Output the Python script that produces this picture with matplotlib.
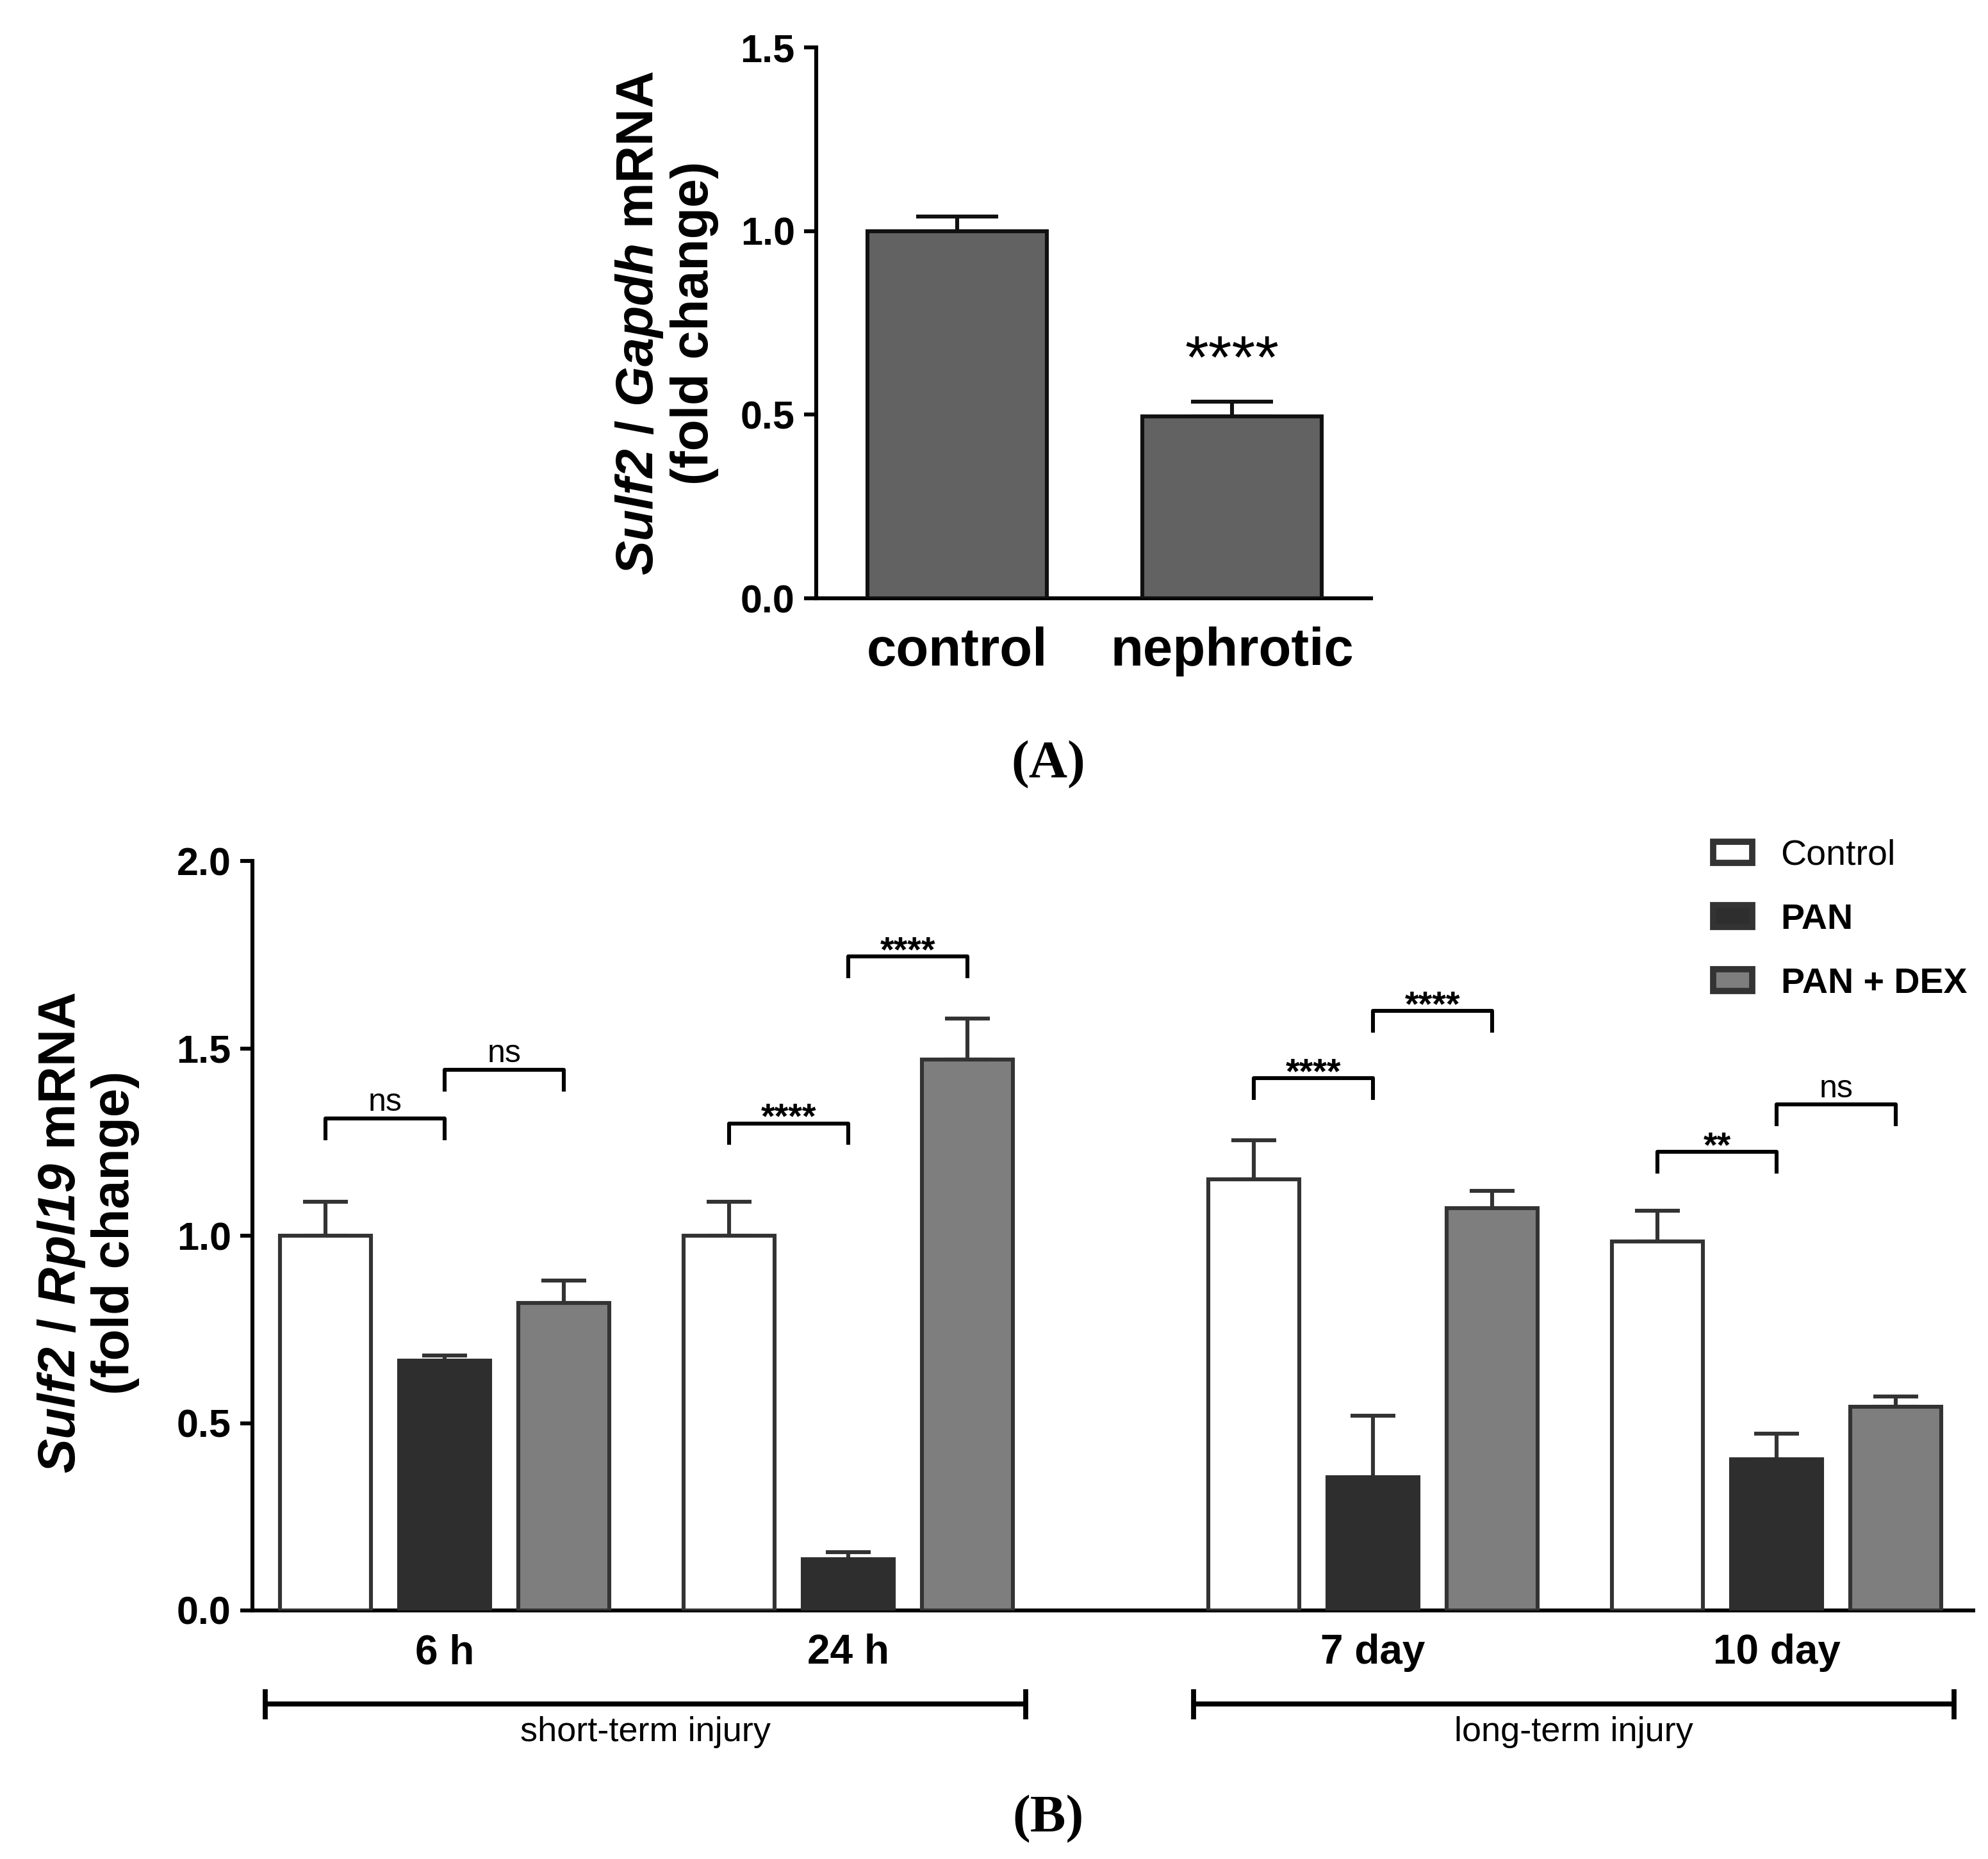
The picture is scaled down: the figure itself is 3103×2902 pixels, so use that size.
import numpy as np
import matplotlib
matplotlib.use("Agg")
import matplotlib.pyplot as plt
from matplotlib.patches import Patch

plt.rcParams['font.family'] = ['Liberation Sans', 'DejaVu Sans']
# math text is used only for the italic gene names
plt.rcParams['mathtext.fontset'] = 'custom'
plt.rcParams['mathtext.it'] = 'Liberation Sans:italic:bold'
plt.rcParams['mathtext.rm'] = 'Liberation Sans:italic:bold'
plt.rcParams['mathtext.bf'] = 'Liberation Sans:italic:bold'

# ---- data: panel A ----
groups_a = ['control', 'nephrotic']
mean_a = [1.0, 0.495]
err_a = [0.04, 0.04]
stars_a = ['', '****']

# ---- data: panel B ----
times = ['6 h', '24 h', '7 day', '10 day']
treatments = ['Control', 'PAN', 'PAN + DEX']
mean_ctrl = [1.0, 1.0, 1.15, 0.985]
err_ctrl = [0.09, 0.09, 0.105, 0.082]
mean_pan = [0.667, 0.137, 0.356, 0.403]
err_pan = [0.013, 0.018, 0.164, 0.069]
mean_dex = [0.82, 1.47, 1.073, 0.544]
err_dex = [0.06, 0.11, 0.047, 0.027]
# (time index, bar a, bar b, bracket height, label)
sig_pairs = [
    (0, 0, 1, 1.313, 'ns'), (0, 1, 2, 1.443, 'ns'),
    (1, 0, 1, 1.300, '****'), (1, 1, 2, 1.745, '****'),
    (2, 0, 1, 1.420, '****'), (2, 1, 2, 1.600, '****'),
    (3, 0, 1, 1.224, '**'), (3, 1, 2, 1.350, 'ns'),
]
periods = ['short-term injury', 'long-term injury']
period_groups = [(0, 1), (2, 3)]

W, H, DPI = 3103, 2902, 200
fig = plt.figure(figsize=(W / DPI, H / DPI), dpi=DPI)

LW = 2.2

# ================= panel A =================
axA = fig.add_axes([1274 / W, 1 - 934 / H, 866 / W, 860 / H])
xa = np.arange(len(groups_a))
axA.bar(xa, mean_a, width=0.653, color='#626262', edgecolor='#111111', linewidth=LW, zorder=3)
axA.errorbar(xa, mean_a, yerr=[np.zeros(len(err_a)), err_a], fmt='none', ecolor='#111111',
             elinewidth=LW, capsize=23, capthick=LW, zorder=2)
for xi, m, e, s in zip(xa, mean_a, err_a, stars_a):
    if s:
        axA.text(xi, m + e + 0.065, s, ha='center', va='baseline', fontsize=34)
axA.set_xlim(-0.513, 1.506)
axA.set_ylim(0, 1.5)
axA.set_yticks([0, 0.5, 1.0, 1.5])
axA.set_yticklabels(['0.0', '0.5', '1.0', '1.5'])
axA.set_xticks(xa)
axA.set_xticklabels(groups_a, fontsize=30, fontweight='bold')
axA.tick_params(axis='x', length=0, pad=16)
axA.tick_params(axis='y', direction='out', length=7, width=LW, pad=5, labelsize=22)
for t in axA.get_yticklabels():
    t.set_fontweight('bold')
for sp in ['top', 'right']:
    axA.spines[sp].set_visible(False)
for sp in ['left', 'bottom']:
    axA.spines[sp].set_linewidth(LW)
fig.text(1040 / W, 1 - 504 / H, r'$Sulf2$ / $Gapdh$ mRNA' + '\n(fold change)',
         rotation=90, ha='center', va='center', multialignment='center', fontsize=29,
         fontweight='bold', linespacing=1.15)
fig.text(1636 / W, 1 - 1194 / H, '(A)', ha='center', va='center', fontsize=30,
         fontweight='bold', family=['Liberation Serif', 'DejaVu Serif'])

# ================= panel B =================
axB = fig.add_axes([394 / W, 1 - 2514 / H, 2686 / W, 1170 / H])
xg = np.array([0, 1, 2.3, 3.3])
offs = [-0.295, 0.0, 0.295]
bw = 0.225
means = [mean_ctrl, mean_pan, mean_dex]
errs = [err_ctrl, err_pan, err_dex]
faces = ['white', '#2e2e2e', '#7e7e7e']
edges = ['#333333', '#2e2e2e', '#333333']
handles = []
for k in range(3):
    axB.bar(xg + offs[k], means[k], width=bw, color=faces[k], edgecolor=edges[k],
            linewidth=LW, zorder=3)
    axB.errorbar(xg + offs[k], means[k], yerr=[np.zeros(len(errs[k])), errs[k]], fmt='none',
                 ecolor='#333333', elinewidth=LW, capsize=12.5, capthick=LW, zorder=2)
    handles.append(Patch(facecolor=faces[k], edgecolor='#333333', linewidth=LW * 1.6,
                         label=treatments[k]))

drop = 0.058
for g, a, b, h, lab in sig_pairs:
    x1, x2 = xg[g] + offs[a], xg[g] + offs[b]
    axB.plot([x1, x1, x2, x2], [h - drop, h, h, h - drop], color='black', lw=LW,
             solid_capstyle='butt', clip_on=False)
    if lab == 'ns':
        axB.text((x1 + x2) / 2, h + 0.02, lab, ha='center', va='baseline', fontsize=18)
    else:
        axB.text((x1 + x2) / 2, h - 0.012, lab, ha='center', va='baseline', fontsize=20,
                 fontweight='bold')

axB.set_xlim(-0.476, 3.787)
axB.set_ylim(0, 2.0)
axB.set_yticks([0, 0.5, 1.0, 1.5, 2.0])
axB.set_yticklabels(['0.0', '0.5', '1.0', '1.5', '2.0'])
axB.set_xticks(xg)
axB.set_xticklabels(times, fontsize=23, fontweight='bold')
axB.tick_params(axis='x', length=0, pad=13)
axB.tick_params(axis='y', direction='out', length=7, width=LW, pad=5, labelsize=22)
for t in axB.get_yticklabels():
    t.set_fontweight('bold')
for sp in ['top', 'right']:
    axB.spines[sp].set_visible(False)
for sp in ['left', 'bottom']:
    axB.spines[sp].set_linewidth(LW)

# injury period brackets below axis
yb, tk = -0.25, 0.04
for name, (g0, g1) in zip(periods, period_groups):
    xl, xr = xg[g0] - 0.445, xg[g1] + 0.44
    axB.plot([xl, xr], [yb, yb], color='black', lw=2.8, clip_on=False, solid_capstyle='butt')
    for xe in (xl, xr):
        axB.plot([xe, xe], [yb - tk, yb + tk], color='black', lw=2.8, clip_on=False,
                 solid_capstyle='butt')
    axB.text((xl + xr) / 2, yb - 0.075, name, ha='center', va='center', fontsize=19.5)

leg = axB.legend(handles=handles, loc='upper left', bbox_to_anchor=(2674 / W, 1 - 1310 / H),
                 bbox_transform=fig.transFigure, frameon=False, fontsize=20,
                 handlelength=1.1, handleheight=0.55, handletextpad=0.8,
                 labelspacing=0.86, borderpad=0, borderaxespad=0)
for t, w in zip(leg.get_texts(), ['normal', 'bold', 'bold']):
    t.set_fontweight(w)

fig.text(137 / W, 1 - 1924 / H, r'$Sulf2$ / $Rpl19$ mRNA' + '\n(fold change)',
         rotation=90, ha='center', va='center', multialignment='center', fontsize=29,
         fontweight='bold', linespacing=1.1)
fig.text(1636 / W, 1 - 2840 / H, '(B)', ha='center', va='center', fontsize=30,
         fontweight='bold', family=['Liberation Serif', 'DejaVu Serif'])

fig.savefig('out.png', dpi=DPI, facecolor='white')
